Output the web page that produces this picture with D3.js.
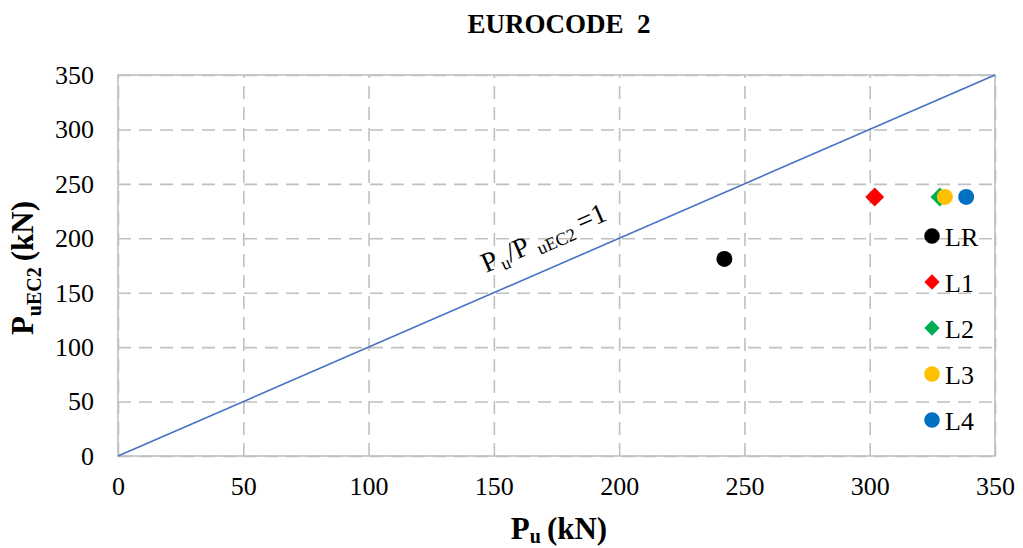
<!DOCTYPE html>
<html>
<head>
<meta charset="utf-8">
<script src="https://cdn.jsdelivr.net/npm/d3@7"></script>
<style>
  body { margin: 0; background: #fff; }
  svg { display: block; font-family: "Liberation Serif", "Times New Roman", serif; }
</style>
</head>
<body>
<svg id="chart" width="1023" height="548"></svg>
<script>
// Test series: measured ultimate load Pu vs. EC2 prediction PuEC2 (kN)
const seriesNames = ["LR", "L1", "L2", "L3", "L4"];
const puValues    = [242, 302, 328, 330, 338.5];
const puEC2Values = [181, 238, 238, 238, 238];
const seriesColors = ["#000000", "#ff0000", "#00b050", "#ffc000", "#0070c0"];
const seriesShapes = ["circle", "diamond", "diamond", "circle", "circle"];

// Axis ticks and the equality reference line Pu = PuEC2
const xTicks = [0, 50, 100, 150, 200, 250, 300, 350];
const yTicks = [0, 50, 100, 150, 200, 250, 300, 350];
const refLine = [[0, 0], [350, 350]];

const svg = d3.select("#chart");
const margin = { left: 118, right: 28, top: 75, bottom: 92 };
const W = 1023, H = 548;
const serif = "Liberation Serif";

const x = d3.scaleLinear().domain([0, 350]).range([margin.left, W - margin.right]);
const y = d3.scaleLinear().domain([0, 350]).range([H - margin.bottom, margin.top]);

const gridColor = "#c0c0c0";

// dashed gridlines
svg.append("g")
  .attr("transform", `translate(0,${y(0)})`)
  .call(d3.axisBottom(x).tickValues(xTicks).tickSize(-(y(0) - y(350))).tickFormat(""))
  .call(g => g.select(".domain").remove())
  .call(g => g.selectAll("line").attr("stroke", gridColor).attr("stroke-width", 1.6).attr("stroke-dasharray", "13,8"));

svg.append("g")
  .attr("transform", `translate(${x(0)},0)`)
  .call(d3.axisLeft(y).tickValues(yTicks).tickSize(-(x(350) - x(0))).tickFormat(""))
  .call(g => g.select(".domain").remove())
  .call(g => g.selectAll("line").attr("stroke", gridColor).attr("stroke-width", 1.6).attr("stroke-dasharray", "13,8"));

// solid frame around the plot area
svg.append("rect")
  .attr("x", x(0)).attr("y", y(350))
  .attr("width", x(350) - x(0)).attr("height", y(0) - y(350))
  .attr("fill", "none").attr("stroke", gridColor).attr("stroke-width", 1.6);

// tick labels
svg.append("g")
  .attr("transform", `translate(0,${y(0)})`)
  .call(d3.axisBottom(x).tickValues(xTicks).tickSize(0).tickPadding(21))
  .call(g => g.select(".domain").remove())
  .call(g => g.selectAll("text").attr("font-family", serif).attr("font-size", 26).attr("fill", "#000"));

svg.append("g")
  .attr("transform", `translate(${x(0)},0)`)
  .call(d3.axisLeft(y).tickValues(yTicks).tickSize(0).tickPadding(24))
  .call(g => g.select(".domain").remove())
  .call(g => g.selectAll("text").attr("font-family", serif).attr("font-size", 26).attr("fill", "#000"));

// reference line
svg.append("path")
  .datum(refLine)
  .attr("d", d3.line().x(d => x(d[0])).y(d => y(d[1])))
  .attr("stroke", "#4472c4").attr("stroke-width", 1.6).attr("fill", "none");

// annotation along the reference line
const angle = Math.atan2(y(0) - y(350), x(350) - x(0)) * 180 / Math.PI;
const ann = svg.append("text")
  .attr("transform", `translate(486,273) rotate(${-angle})`)
  .attr("font-size", 28).attr("fill", "#000");
ann.append("tspan").text("P");
ann.append("tspan").attr("font-size", 18).attr("dy", 5).attr("dx", 2).text("u");
ann.append("tspan").attr("dy", -5).text("/P");
ann.append("tspan").attr("font-size", 18).attr("dy", 5).attr("dx", 7).text("uEC2");
ann.append("tspan").attr("dy", -5).attr("dx", 6).text("=1");

// marker paths
function markerPath(shape, size) {
  const sym = shape === "diamond" ? d3.symbolSquare : d3.symbolCircle;
  return d3.symbol().type(sym).size(size)();
}

const pts = seriesNames.map((n, i) => ({ name: n, pu: puValues[i], pe: puEC2Values[i], color: seriesColors[i], shape: seriesShapes[i] }));

svg.append("g").selectAll("path")
  .data(pts)
  .join("path")
  .attr("d", d => d.shape === "diamond" ? markerPath("diamond", 180) : markerPath("circle", 200))
  .attr("transform", d => `translate(${x(d.pu)},${y(d.pe)})` + (d.shape === "diamond" ? " rotate(45)" : ""))
  .attr("fill", d => d.color);

// legend
const legend = svg.append("g");
const legY0 = 236, legStep = 46;
pts.forEach((d, i) => {
  const gy = legY0 + i * legStep;
  legend.append("path")
    .attr("d", d.shape === "diamond" ? markerPath("diamond", 117) : markerPath("circle", 190))
    .attr("transform", `translate(932,${gy})` + (d.shape === "diamond" ? " rotate(45)" : ""))
    .attr("fill", d.color);
  legend.append("text")
    .attr("x", 945).attr("y", gy + 10)
    .attr("font-size", 26).attr("fill", "#000")
    .text(d.name);
});

// title
svg.append("text")
  .attr("x", 559).attr("y", 33)
  .attr("text-anchor", "middle")
  .attr("font-size", 27).attr("font-weight", "bold")
  .attr("xml:space", "preserve")
  .text("EUROCODE  2");

// x axis title
const xt = svg.append("text")
  .attr("x", 559).attr("y", 539)
  .attr("text-anchor", "middle")
  .attr("font-size", 31).attr("font-weight", "bold");
xt.append("tspan").text("P");
xt.append("tspan").attr("font-size", 20).attr("dy", 4).text("u");
xt.append("tspan").attr("dy", -4).attr("dx", 6).text("(kN)");

// y axis title
const yt = svg.append("text")
  .attr("transform", `translate(33,268) rotate(-90)`)
  .attr("text-anchor", "middle")
  .attr("font-size", 31).attr("font-weight", "bold");
yt.append("tspan").text("P");
yt.append("tspan").attr("font-size", 20).attr("dy", 8).text("uEC2");
yt.append("tspan").attr("dy", -8).attr("dx", 6).text("(kN)");
</script>
</body>
</html>
